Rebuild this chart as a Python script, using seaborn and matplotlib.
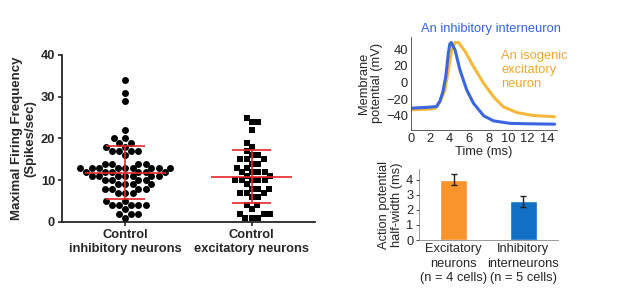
import numpy as np
import pandas as pd
import matplotlib
matplotlib.use("Agg")
import matplotlib.pyplot as plt
import seaborn as sns

# --- data ---
groups = ["Control\ninhibitory neurons", "Control\nexcitatory neurons"]
inhib_rates = ([34, 31, 29, 22, 20, 20, 19, 19, 18, 18, 17, 17, 17, 17, 16]
               + [14] * 4 + [13] * 9 + [12] * 6 + [11] * 7 + [10] * 4
               + [9] * 4 + [8] * 4 + [7] * 3 + [5, 5] + [4] * 5 + [3, 2, 2, 2, 1])
excit_rates = ([25, 24, 24, 22, 19, 18, 17, 16, 16, 15, 15, 15, 14, 14, 13, 13]
               + [12] * 4 + [11, 11] + [10] * 5 + [9, 8, 8, 8, 7, 7, 7, 6, 6]
               + [4, 4, 3, 2, 2, 2, 1, 1, 1])

t_inhib = [0, 1, 2, 2.65, 3.0, 3.3, 3.6, 3.85, 4.0, 4.15, 4.55, 5.05, 5.75, 6.45,
           7.5, 8.5, 10.2, 12.0, 14.8]
v_inhib = [-30.8, -30.2, -29.5, -28.8, -22, -10.8, 8, 35, 46, 48, 39, 15, -9, -25,
           -40, -46, -49, -49.5, -50]
t_excit = [0, 1, 2, 2.5, 3.0, 3.5, 3.85, 4.2, 4.55, 4.9, 5.6, 6.45, 7.5, 8.5, 9.5,
           10.9, 12.6, 14.8]
v_excit = [-32.8, -32.3, -31.8, -31, -23, -9, 15, 39, 48, 48, 37, 19, -1, -17, -29,
           -36, -39.6, -41]

bar_labels = ["Excitatory\nneurons\n(n = 4 cells)", "Inhibitory\ninterneurons\n(n = 5 cells)"]
half_width = [4.0, 2.57]
half_width_err = [0.38, 0.38]

BLUE_LINE = "#3a66e0"
ORANGE_LINE = "#f5b83c"
BAR_COLORS = ["#f7942c", "#1170c4"]

sns.set_theme(style="ticks")
plt.rcParams["font.family"] = ["Liberation Sans", "DejaVu Sans"]

fig = plt.figure(figsize=(6.17, 3.07), dpi=100)

# --- left: swarm of firing rates ---
ax1 = fig.add_axes([0.1005, 0.277, 0.41, 0.544])
df = pd.DataFrame({
    "group": [groups[0]] * len(inhib_rates) + [groups[1]] * len(excit_rates),
    "rate": inhib_rates + excit_rates,
})
for g, mk, sz in zip(groups, ["o", "s"], [5.0, 4.6]):
    sns.swarmplot(data=df[df.group == g], x="group", y="rate", order=groups,
                  marker=mk, color="black", size=sz, ax=ax1)
for i, vals in enumerate([inhib_rates, excit_rates]):
    m, sd = np.mean(vals), np.std(vals, ddof=1)
    ax1.hlines(m, i - 0.32, i + 0.32, color="#e8262a", lw=1.2, zorder=5)
    ax1.hlines([m - sd, m + sd], i - 0.155, i + 0.155, color="#e8262a", lw=1.2, zorder=5)
    ax1.vlines(i, m - sd, m + sd, color="#e8262a", lw=1.2, zorder=5)
ax1.set_xlim(-0.5, 1.5)
ax1.set_ylim(0, 40)
ax1.set_yticks([0, 10, 20, 30, 40])
ax1.set_xlabel("")
ax1.set_ylabel("Maximal Firing Frequency\n(Spikes/sec)", fontsize=9.5, fontweight="bold",
               labelpad=3)
ax1.tick_params(axis="both", labelsize=9.3, width=1.2, length=3, pad=2)
for lab in ax1.get_xticklabels() + ax1.get_yticklabels():
    lab.set_fontweight("bold")
for s in ["left", "bottom"]:
    ax1.spines[s].set_linewidth(1.3)
sns.despine(ax=ax1)

# --- top right: action potential traces ---
ax2 = fig.add_axes([0.666, 0.5765, 0.236, 0.304])
traces = pd.concat([
    pd.DataFrame({"t": t_inhib, "v": v_inhib, "cell": "inhib"}),
    pd.DataFrame({"t": t_excit, "v": v_excit, "cell": "excit"}),
])
sns.lineplot(data=traces, x="t", y="v", hue="cell", hue_order=["excit", "inhib"],
             palette={"inhib": BLUE_LINE, "excit": ORANGE_LINE}, lw=2.2,
             sort=False, legend=False, ax=ax2)
ax2.set_xlim(0, 15)
ax2.set_ylim(-57, 55)
ax2.set_xticks(range(0, 15, 2))
ax2.set_yticks([-40, -20, 0, 20, 40])
ax2.set_xlabel("Time (ms)", fontsize=9.3, labelpad=1)
ax2.set_ylabel("Membrane\npotential (mV)", fontsize=9.3, labelpad=2, linespacing=1.15)
ax2.tick_params(axis="both", labelsize=9.3, length=0, pad=2)
for s in ["left", "bottom"]:
    ax2.spines[s].set_linewidth(0.6)
    ax2.spines[s].set_color("#444444")
sns.despine(ax=ax2)
ax2.text(0.07, 1.02, "An inhibitory interneuron", transform=ax2.transAxes,
         color="#3366dd", fontsize=9.3, va="bottom")
ax2.text(0.62, 0.86, "An isogenic\nexcitatory\nneuron", transform=ax2.transAxes,
         color="#f0a830", fontsize=9.3, va="top", linespacing=1.25)

# --- bottom right: half-width bars ---
ax3 = fig.add_axes([0.679, 0.218, 0.225, 0.231])
sns.barplot(x=bar_labels, y=half_width, hue=bar_labels, palette=BAR_COLORS,
            width=0.39, saturation=1, legend=False, ax=ax3)
ax3.errorbar(range(len(half_width)), half_width, yerr=half_width_err, fmt="none",
             ecolor="#222222", elinewidth=1, capsize=2.2, capthick=1)
ax3.set_xlim(-0.5, 1.5)
ax3.set_ylim(0, 4.7)
ax3.set_yticks([0, 1, 2, 3, 4])
ax3.set_ylabel("Action potential\nhalf-width (ms)", fontsize=9.3, labelpad=2,
               linespacing=1.15)
ax3.tick_params(axis="y", labelsize=9.3, length=2.5, width=0.6, pad=1.5)
ax3.tick_params(axis="x", labelsize=9.3, length=0, pad=2)
for lab in ax3.get_xticklabels():
    lab.set_linespacing(1.3)
for s in ["left", "bottom"]:
    ax3.spines[s].set_linewidth(0.6)
    ax3.spines[s].set_color("#888888")
sns.despine(ax=ax3)

fig.savefig("out.png", dpi=100)
